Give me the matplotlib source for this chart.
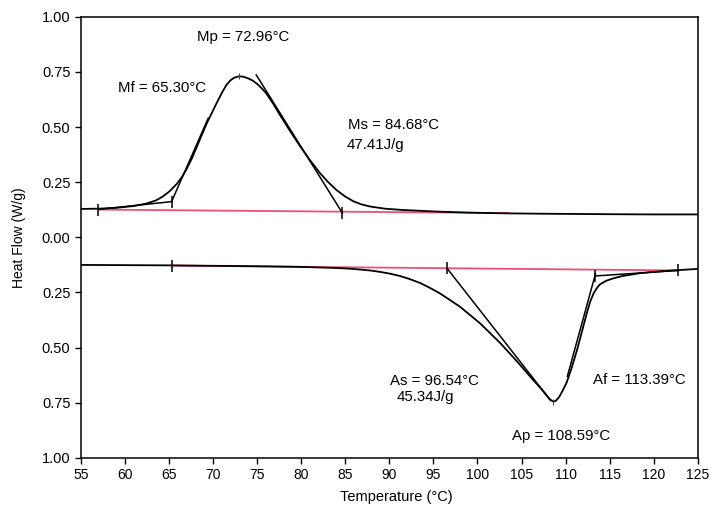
import numpy as np
import matplotlib.pyplot as plt
from matplotlib.ticker import FuncFormatter

plt.rcParams['font.family'] = ['Liberation Sans', 'DejaVu Sans']

# cooling curve (upper, exothermic)
cool_t = [55, 57, 59, 61, 62.4, 63.5, 64.3, 65.1, 65.9, 66.5, 67.0, 67.6, 68.1, 68.7,
          69.3, 69.9, 70.4, 71.0, 71.5, 72.0, 72.4, 72.9, 73.4, 74.0, 74.5, 75.0, 75.5,
          76.0, 76.8, 77.6, 78.7, 79.8, 81.0, 82.1, 83.0, 84.0, 85.0, 85.9, 86.8, 87.8,
          89.5, 91.6, 95.4, 99.2, 103, 108, 115, 120, 125]
cool_hf = [0.129, 0.130, 0.134, 0.142, 0.153, 0.167, 0.185, 0.21, 0.243, 0.275, 0.31,
           0.358, 0.405, 0.462, 0.518, 0.567, 0.608, 0.655, 0.69, 0.713, 0.724, 0.73,
           0.729, 0.721, 0.711, 0.696, 0.677, 0.655, 0.608, 0.555, 0.485, 0.418, 0.35,
           0.293, 0.253, 0.215, 0.185, 0.164, 0.15, 0.14, 0.13, 0.124, 0.117, 0.112,
           0.109, 0.107, 0.105, 0.104, 0.104]

# heating curve (lower, endothermic)
heat_t = [55, 60, 65, 70, 75, 80, 84, 85.5, 87, 88, 89, 90, 91.2, 92.3, 93.5, 94.6,
          95.7, 98.0, 100.3, 102.6, 104.5, 106.3, 107.3, 107.9, 108.2, 108.6, 108.9,
          109.3, 109.6, 110.1, 110.7, 111.3, 111.9, 112.4, 112.8, 113.2, 113.6, 113.9,
          114.6, 115.4, 116.5, 118.5, 120.5, 122.2, 125]
heat_hf = [-0.125, -0.126, -0.127, -0.129, -0.131, -0.134, -0.139, -0.142, -0.147,
           -0.151, -0.157, -0.164, -0.175, -0.189, -0.207, -0.229, -0.253, -0.314,
           -0.39, -0.48, -0.563, -0.646, -0.69, -0.72, -0.734, -0.745, -0.741, -0.722,
           -0.70, -0.66, -0.59, -0.51, -0.42, -0.344, -0.29, -0.252, -0.227, -0.213,
           -0.197, -0.186, -0.175, -0.162, -0.155, -0.150, -0.143]

# integration baselines (red)
cool_base_t = [57.0, 103.5]
cool_base_hf = [0.126, 0.110]
heat_base_t = [65.3, 122.8]
heat_base_hf = [-0.128, -0.150]

# onset construction lines
tangents = [
    ([57.0, 65.3], [0.127, 0.162]),
    ([65.3, 69.45], [0.162, 0.54]),
    ([74.9, 84.68], [0.737, 0.11]),
    ([96.54, 108.3], [-0.14, -0.74]),
    ([113.39, 110.2], [-0.165, -0.63]),
    ([113.39, 122.8], [-0.175, -0.150]),
]

# small tick marks at the onsets / ends
mark_t = [57.0, 65.3, 84.68, 65.3, 96.54, 113.39, 122.8]
mark_hf = [0.126, 0.162, 0.11, -0.128, -0.14, -0.175, -0.150]
# peak marks
peak_t = [72.96, 108.59]
peak_hf = [0.73, -0.745]

labels = [
    (73.44, 0.91, 'Mp = 72.96°C', 'center'),
    (59.2, 0.677, 'Mf = 65.30°C', 'left'),
    (85.3, 0.51, 'Ms = 84.68°C', 'left'),
    (85.15, 0.42, '47.41J/g', 'left'),
    (90.07, -0.65, 'As = 96.54°C', 'left'),
    (90.83, -0.722, '45.34J/g', 'left'),
    (113.1, -0.646, 'Af = 113.39°C', 'left'),
    (109.46, -0.90, 'Ap = 108.59°C', 'center'),
]

fig = plt.figure(figsize=(7.15, 5.11), dpi=100)
ax = fig.add_axes([0.113, 0.104, 0.863, 0.863])

ax.plot(cool_base_t, cool_base_hf, color='#ee4f72', lw=1.3)
ax.plot(heat_base_t, heat_base_hf, color='#ee4f72', lw=1.3)
ax.plot(cool_t, cool_hf, color='black', lw=1.3)
ax.plot(heat_t, heat_hf, color='black', lw=1.3)
for tx, hy in tangents:
    ax.plot(tx, hy, color='black', lw=1.1)
ax.plot(mark_t, mark_hf, ls='none', marker='|', ms=9, mew=1.1, color='black')
ax.plot(peak_t, peak_hf, ls='none', marker='|', ms=5, mew=0.8, color='#444444')

for x, y, s, ha in labels:
    ax.text(x, y, s, fontsize=10.8, ha=ha, va='center')

ax.set_xlim(55, 125)
ax.set_ylim(-1, 1)
ax.set_xticks(np.arange(55, 126, 5))
ax.set_yticks(np.arange(-1, 1.01, 0.25))
ax.yaxis.set_major_formatter(FuncFormatter(lambda v, p: '%.2f' % abs(v)))
ax.tick_params(direction='out', length=4, width=1)
ax.tick_params(axis='x', labelsize=10)
ax.tick_params(axis='y', labelsize=10.5)
for sp in ax.spines.values():
    sp.set_linewidth(1.1)

ax.set_xlabel('Temperature (°C)', fontsize=10.5)
ax.xaxis.set_label_coords(0.512, -0.073)
ax.set_ylabel('Heat Flow (W/g)', fontsize=10)
ax.yaxis.set_label_coords(-0.089, 0.5)

fig.savefig('out.png', dpi=100)
